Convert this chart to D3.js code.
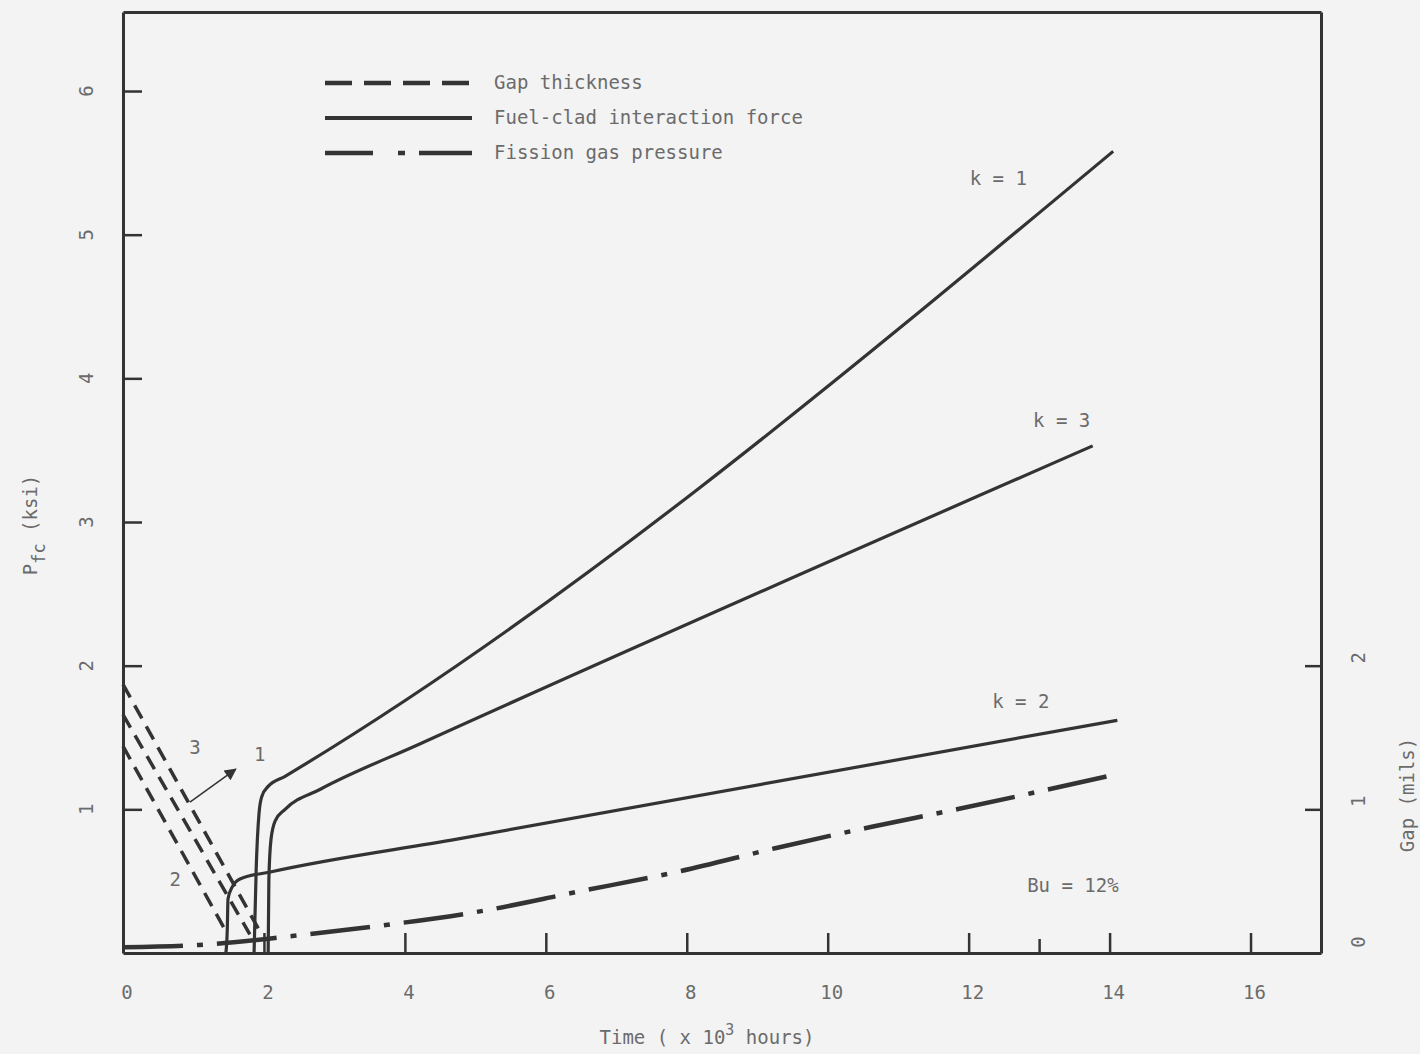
<!DOCTYPE html>
<html>
<head>
<meta charset="utf-8">
<script src="https://cdn.jsdelivr.net/npm/d3@7"></script>
<style>
  body { margin: 0; background: #f3f3f3; }
  svg text { font-family: "DejaVu Sans Mono", monospace; fill: #6b6b6b; font-size: 19px; }
</style>
</head>
<body>
<svg id="chart" width="1420" height="1054"></svg>
<script>
// values: time in 10^3 h, force in ksi, gap in mils
var k1Time = [1.86, 1.89, 1.93, 1.97, 2.06, 2.30, 14.05],
  k1Force = [0, 0.585, 0.97, 1.09, 1.16, 1.23, 5.58];
var k3Time = [2.06, 2.07, 2.10, 2.16, 2.30, 2.80, 4.21, 13.76],
  k3Force = [0, 0.515, 0.79, 0.92, 1.00, 1.14, 1.455, 3.53];
var k2Time = [1.46, 1.48, 1.49, 1.55, 1.66, 2.09, 4.74, 14.11],
  k2Force = [0, 0.167, 0.376, 0.46, 0.515, 0.564, 0.793, 1.62];
var gasTime = [0, 1.08, 2.40, 3.73, 5.01, 6.44, 7.92, 9.27, 10.61, 11.85, 12.97, 14.05],
  gasPressure = [0.04, 0.056, 0.118, 0.195, 0.285, 0.425, 0.571, 0.731, 0.877, 1.002, 1.121, 1.239];
var gapK3Time = [0, 1.92], gapK3 = [1.87, 0.17];
var gapK1Time = [0, 1.80], gapK1 = [1.66, 0.13];
var gapK2Time = [0, 1.45], gapK2 = [1.44, 0.16];

var timeTicks = [0, 2, 4, 6, 8, 10, 12, 14, 16];
var forceTicks = [1, 2, 3, 4, 5, 6];
var gapTicks = [0, 1, 2];
var legendNames = ["Gap thickness", "Fuel-clad interaction force", "Fission gas pressure"];

var ink = "#333";
var svg = d3.select("#chart");

//scales
var x = d3.scaleLinear().domain([0, 17]).range([123, 1321]);
var y = d3.scaleLinear().domain([0, 6.55]).range([953, 12]);
var gapY = d3.scaleLinear().domain(y.domain()).range(y.range());

function styleAxis(g) {
  g.select(".domain").attr("stroke", ink).attr("stroke-width", 3);
  g.selectAll(".tick line").attr("stroke", ink).attr("stroke-width", 2.5);
}

//frame and axes
svg.append("g")
  .attr("transform", "translate(0," + y(0) + ")")
  .call(d3.axisBottom(x).tickValues([2, 4, 6, 8, 10, 12, 13, 14, 16])
    .tickSizeInner(-20).tickSizeOuter(0).tickFormat(""))
  .call(styleAxis)
  .selectAll(".tick line")
  .attr("y2", d => (d == 13 ? -14 : -20));

svg.append("g")
  .attr("transform", "translate(0," + y(6.55) + ")")
  .call(d3.axisTop(x).tickValues([]).tickSizeOuter(0))
  .call(styleAxis);

svg.append("g")
  .attr("transform", "translate(" + x(0) + ",0)")
  .call(d3.axisLeft(y).tickValues(forceTicks).tickSizeInner(-19).tickSizeOuter(0).tickFormat(""))
  .call(styleAxis);

svg.append("g")
  .attr("transform", "translate(" + x(17) + ",0)")
  .call(d3.axisRight(gapY).tickValues([1, 2]).tickSizeInner(-16).tickSizeOuter(0).tickFormat(""))
  .call(styleAxis);

//tick labels
svg.selectAll(".tlab").data(timeTicks).enter().append("text")
  .attr("x", d => x(d) + 4)
  .attr("y", 999)
  .attr("text-anchor", "middle")
  .text(d => d);

svg.selectAll(".flab").data(forceTicks).enter().append("text")
  .attr("transform", d => "translate(93," + y(d) + ") rotate(-90)")
  .attr("text-anchor", "middle")
  .text(d => d);

svg.selectAll(".glab").data(gapTicks).enter().append("text")
  .attr("transform", d => "translate(1365," + (gapY(d) - (d == 0 ? 11 : 8)) + ") rotate(-90)")
  .attr("text-anchor", "middle")
  .text(d => d);

//axis titles
var xt = svg.append("text").attr("x", 707).attr("y", 1044).attr("text-anchor", "middle");
xt.append("tspan").text("Time ( x 10");
xt.append("tspan").attr("dy", -9).attr("font-size", 15).text("3");
xt.append("tspan").attr("dy", 9).text(" hours)");

var yt = svg.append("text").attr("transform", "translate(37,525) rotate(-90)").attr("text-anchor", "middle");
yt.append("tspan").text("P");
yt.append("tspan").attr("dy", 8).attr("font-size", 17).text("fc");
yt.append("tspan").attr("dy", -8).text(" (ksi)");

svg.append("text")
  .attr("transform", "translate(1414,795) rotate(-90)")
  .attr("text-anchor", "middle")
  .text("Gap (mils)");

//curves
var line = d3.line().x(d => x(d[0])).y(d => y(d[1])).curve(d3.curveMonotoneX);
var gapLine = d3.line().x(d => x(d[0])).y(d => gapY(d[1]));

function draw(times, vals, gen, width, dash) {
  svg.append("path")
    .datum(d3.zip(times, vals))
    .attr("d", gen)
    .attr("fill", "none")
    .attr("stroke", ink)
    .attr("stroke-width", width)
    .attr("stroke-dasharray", dash);
}

draw(k1Time, k1Force, line, 3.2, null);
draw(k3Time, k3Force, line, 3.2, null);
draw(k2Time, k2Force, line, 3.2, null);
draw(gasTime, gasPressure, line, 4.5, "60 14 6 14");
draw(gapK3Time, gapK3, gapLine, 3.5, "15 9");
draw(gapK1Time, gapK1, gapLine, 3.5, "15 9");
draw(gapK2Time, gapK2, gapLine, 3.5, "15 9");

//arrow to the "1" label
svg.append("defs").append("marker")
  .attr("id", "head")
  .attr("viewBox", "0 0 10 10")
  .attr("refX", 9).attr("refY", 5)
  .attr("markerWidth", 14).attr("markerHeight", 12)
  .attr("markerUnits", "userSpaceOnUse")
  .attr("orient", "auto")
  .append("path").attr("d", "M0,0L10,5L0,10Z").attr("fill", ink);

svg.append("line")
  .attr("x1", x(0.95)).attr("y1", gapY(1.05))
  .attr("x2", x(1.60)).attr("y2", gapY(1.28))
  .attr("stroke", ink).attr("stroke-width", 1.5)
  .attr("marker-end", "url(#head)");

//annotations
var notes = [
  ["3", 1.02, 1.43], ["1", 1.94, 1.38], ["2", 0.74, 0.51],
  ["k = 1", 12.42, 5.39], ["k = 3", 13.32, 3.71], ["k = 2", 12.74, 1.75],
  ["Bu = 12%", 13.48, 0.47]
];
svg.selectAll(".note").data(notes).enter().append("text")
  .attr("x", d => x(d[1]))
  .attr("y", d => y(d[2]))
  .attr("dy", "0.35em")
  .attr("text-anchor", "middle")
  .text(d => d[0]);

//legend
var legend = svg.append("g").attr("transform", "translate(325,83)");
var legendDash = ["27 12", null, "48 25 7 14 60"];
var legendWidth = [4.5, 4, 4.5];
legendNames.forEach(function(name, i) {
  legend.append("line")
    .attr("x1", 0).attr("x2", 147)
    .attr("y1", i * 35).attr("y2", i * 35)
    .attr("stroke", ink)
    .attr("stroke-width", legendWidth[i])
    .attr("stroke-dasharray", legendDash[i]);
  legend.append("text")
    .attr("x", 169).attr("y", i * 35 + 6)
    .text(name);
});
</script>
</body>
</html>
